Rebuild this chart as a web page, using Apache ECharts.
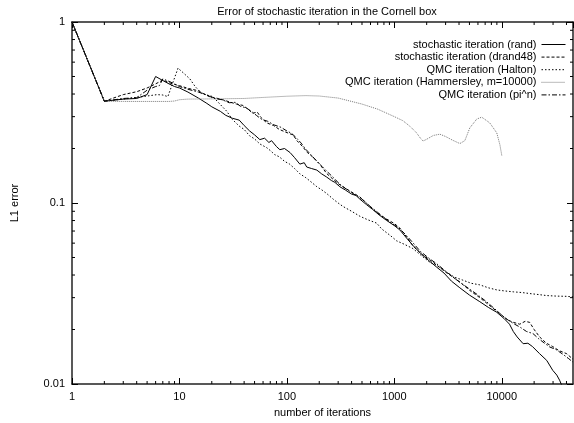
<!DOCTYPE html>
<html><head><meta charset="utf-8">
<script src="https://cdn.jsdelivr.net/npm/echarts@6/dist/echarts.min.js"></script>
<style>html,body{margin:0;padding:0;background:#fff}#c{width:574px;height:423px}</style>
</head><body><div id="c"></div>
<script>
const titleText = 'Error of stochastic iteration in the Cornell box';
const seriesNames = ['stochastic iteration (rand)','stochastic iteration (drand48)','QMC iteration (Halton)','QMC iteration (Hammersley, m=10000)','QMC iteration (pi^n)'];
const xTickLabels = [1,10,100,1000,10000];
const yTickLabels = [0.01,0.1,1];
const xMinorTicks = [2,3,4,5,6,7,8,9,20,30,40,50,60,70,80,90,200,300,400,500,600,700,800,900,2000,3000,4000,5000,6000,7000,8000,9000,20000,30000,40000];
const yMinorTicks = [0.02,0.03,0.04,0.05,0.06,0.07,0.08,0.09,0.2,0.3,0.4,0.5,0.6,0.7,0.8,0.9];

const randData = [[1,1.0],[2,0.365],[3,0.375],[4,0.378],[5,0.397],[6,0.50],[7,0.475],[8,0.455],[9,0.44],[10,0.432],[12,0.41],[15,0.38],[18,0.355],[20,0.34],[24,0.321],[27,0.305],[31,0.294],[36,0.287],[40,0.268],[45,0.25],[50,0.238],[56,0.224],[62,0.228],[68,0.216],[72,0.221],[80,0.205],[86,0.197],[95,0.2],[107,0.19],[118,0.178],[132,0.164],[145,0.167],[153,0.158],[170,0.155],[190,0.152],[210,0.145],[235,0.139],[260,0.133],[280,0.13],[311,0.123],[350,0.118],[400,0.112],[440,0.11],[478,0.105],[550,0.098],[630,0.092],[720,0.086],[850,0.08],[1000,0.075],[1125,0.071],[1300,0.064],[1500,0.058],[1800,0.052],[2100,0.048],[2480,0.0442],[2900,0.041],[3400,0.037],[4070,0.034],[5000,0.031],[6240,0.0285],[7500,0.0265],[8980,0.0249],[10500,0.023],[11800,0.0214],[12800,0.0195],[13900,0.0182],[15800,0.0167],[17500,0.0168],[19300,0.0161],[22500,0.0147],[26200,0.0135],[29800,0.0119],[32500,0.0112],[34500,0.0105],[36800,0.0096]];
const drand48Data = [[1,1],[2,0.365],[3,0.397],[4,0.412],[5,0.432],[6,0.455],[7,0.478],[8,0.462],[9,0.452],[10,0.445],[12,0.43],[15,0.417],[17,0.40],[19,0.387],[22,0.38],[26,0.37],[30,0.36],[34,0.352],[39,0.346],[44,0.328],[48,0.313],[53,0.318],[57,0.298],[65,0.277],[75,0.268],[85,0.255],[95,0.248],[105,0.242],[114,0.238],[124,0.221],[140,0.205],[155,0.19],[175,0.179],[200,0.165],[236,0.145],[270,0.135],[300,0.128],[332,0.123],[400,0.115],[478,0.108],[560,0.099],[631,0.0922],[740,0.086],[851,0.0814],[1000,0.077],[1125,0.0727],[1300,0.065],[1486,0.0581],[1800,0.052],[2100,0.049],[2480,0.0453],[3000,0.0415],[3500,0.039],[4070,0.0366],[5000,0.033],[6240,0.030],[7500,0.0275],[8980,0.0252],[10000,0.024],[11100,0.0228],[12500,0.022],[14700,0.0214],[16500,0.0222],[18200,0.0219],[20000,0.020],[22500,0.0182],[26000,0.0168],[29800,0.0161],[34000,0.0153],[40200,0.0147],[46000,0.0137]];
const haltonData = [[1,1],[2,0.365],[3,0.375],[4,0.383],[5,0.39],[6.2,0.397],[7,0.395],[7.8,0.387],[9.7,0.556],[11,0.52],[12.5,0.485],[14,0.44],[16.2,0.402],[18,0.395],[20.5,0.387],[24,0.35],[27.6,0.321],[31,0.29],[36,0.266],[40,0.255],[45,0.235],[50,0.226],[56,0.212],[65,0.202],[70,0.195],[77,0.185],[85,0.18],[95,0.17],[106,0.164],[118,0.155],[132,0.145],[150,0.138],[170,0.13],[190,0.123],[212,0.118],[236,0.1125],[270,0.105],[300,0.1],[332,0.0958],[400,0.09],[478,0.0845],[560,0.081],[685,0.0774],[760,0.072],[851,0.0684],[950,0.065],[1050,0.0618],[1250,0.059],[1490,0.056],[1800,0.051],[2140,0.047],[2480,0.0453],[3070,0.0415],[3600,0.039],[4330,0.0375],[5200,0.036],[6240,0.0353],[7500,0.034],[8980,0.0331],[10500,0.0327],[12800,0.0323],[15500,0.032],[18200,0.0316],[22000,0.0312],[26200,0.0308],[32000,0.0306],[40000,0.0305],[46000,0.0303]];
const hammersleyData = [[1,1],[2,0.365],[3,0.364],[5,0.364],[8,0.364],[9,0.366],[10,0.372],[12,0.375],[20,0.376],[40,0.378],[60,0.383],[100,0.389],[150,0.392],[200,0.39],[300,0.38],[500,0.352],[700,0.33],[1000,0.30],[1200,0.285],[1400,0.265],[1600,0.245],[1750,0.228],[1850,0.22],[2000,0.225],[2300,0.236],[2650,0.24],[3000,0.233],[3500,0.222],[4070,0.213],[4530,0.221],[5040,0.26],[5850,0.291],[6510,0.298],[7730,0.277],[8980,0.244],[9600,0.21],[10000,0.183]];
const piData = [[1,1],[2,0.365],[3,0.378],[4,0.382],[5,0.42],[6,0.44],[6.5,0.445],[7,0.485],[8,0.47],[9,0.455],[10,0.44],[12,0.425],[15,0.41],[18,0.395],[21,0.378],[25,0.372],[29,0.358],[33,0.36],[37,0.342],[42,0.335],[47,0.32],[52,0.305],[58,0.29],[66,0.283],[76,0.27],[88,0.262],[100,0.25],[110,0.243],[120,0.232],[135,0.215],[150,0.198],[170,0.183],[190,0.17],[215,0.158],[240,0.148],[275,0.137],[310,0.127],[360,0.119],[420,0.112],[500,0.105],[580,0.097],[680,0.09],[800,0.083],[950,0.077],[1100,0.073],[1300,0.066],[1500,0.06],[1750,0.054],[2100,0.0495],[2500,0.046],[3000,0.042],[3600,0.0385],[4200,0.036],[5000,0.0335],[6000,0.031],[7200,0.0285],[8600,0.026],[10000,0.024],[11500,0.0225],[13000,0.0215],[15000,0.0205],[17000,0.0195],[19500,0.019],[22000,0.0178],[25000,0.0168],[28000,0.016],[32000,0.0155],[37000,0.0146],[42000,0.0138],[46000,0.0132]];

const X_MIN = 1, X_MAX = 46000, Y_MIN = 0.01, Y_MAX = 1;
const FONT = 'Liberation Sans, Arial, sans-serif';
const chart = echarts.init(document.getElementById('c'), null, {renderer:'canvas'});

function lineSeries(name, data, dash, color) {
  return {name, type:'line', data, symbol:'none', showSymbol:false, animation:false, clip:true,
    lineStyle:{color: color || '#000', width:1, type: dash}, itemStyle:{color: color || '#000'}};
}
const axisLineStyle = {show:true, lineStyle:{color:'#222', width:1.5}};
const majorTick = {show:true, inside:true, length:6, lineStyle:{color:'#000', width:1}};

const MINOR = 3;
const minorXSeries = {type:'custom', silent:true, animation:false, clip:false, z:10,
  data: xMinorTicks.map(v => [v, Y_MIN]),
  renderItem:(params, api) => {
    const v = api.value(0);
    const p = api.coord([v, Y_MIN]), q = api.coord([v, Y_MAX]);
    return {type:'group', children:[
      {type:'line', shape:{x1:p[0], y1:p[1], x2:p[0], y2:p[1]-MINOR}, style:{stroke:'#000', lineWidth:1}},
      {type:'line', shape:{x1:q[0], y1:q[1], x2:q[0], y2:q[1]+MINOR}, style:{stroke:'#000', lineWidth:1}}
    ]};
  }};
const minorYSeries = {type:'custom', silent:true, animation:false, clip:false, z:10,
  data: yMinorTicks.map(v => [X_MIN, v]),
  renderItem:(params, api) => {
    const v = api.value(1);
    const p = api.coord([X_MIN, v]), q = api.coord([X_MAX, v]);
    return {type:'group', children:[
      {type:'line', shape:{x1:p[0], y1:p[1], x2:p[0]+MINOR, y2:p[1]}, style:{stroke:'#000', lineWidth:1}},
      {type:'line', shape:{x1:q[0], y1:q[1], x2:q[0]-MINOR, y2:q[1]}, style:{stroke:'#000', lineWidth:1}}
    ]};
  }};

chart.setOption({
  animation:false,
  title:{text:titleText, left:322, textAlign:'center', top:1, textStyle:{fontFamily:FONT, fontSize:11, fontWeight:'normal', color:'#000'}},
  grid:{left:72, right:1, top:22, bottom:32},
  legend:{data:seriesNames, orient:'vertical', right:8, top:39, padding:0, align:'right', itemWidth:24, itemHeight:8, itemGap:1.6,
    itemStyle:{opacity:0, borderWidth:0}, lineStyle:{width:1},
    textStyle:{fontFamily:FONT, fontSize:11, color:'#000', padding:[0,0,0,0]}, selectedMode:false},
  xAxis:[
    {type:'log', min:X_MIN, max:X_MAX, logBase:10, position:'bottom', axisLine:axisLineStyle, axisTick:majorTick,
     splitLine:{show:false},
     axisLabel:{fontFamily:FONT, fontSize:11, color:'#000', margin:7, showMaxLabel:false,
       formatter:v => xTickLabels.indexOf(v) >= 0 ? String(v) : ''},
     name:'number of iterations', nameLocation:'middle', nameGap:23, nameTextStyle:{fontFamily:FONT, fontSize:11, color:'#000'}},
    {type:'log', min:X_MIN, max:X_MAX, logBase:10, position:'top', axisLine:axisLineStyle, axisTick:majorTick,
     splitLine:{show:false}, axisLabel:{show:false}}
  ],
  yAxis:[
    {type:'log', min:Y_MIN, max:Y_MAX, logBase:10, position:'left', axisLine:axisLineStyle, axisTick:majorTick,
     splitLine:{show:false},
     axisLabel:{fontFamily:FONT, fontSize:11, color:'#000', margin:7, formatter:v => yTickLabels.indexOf(v) >= 0 ? String(v) : ''},
     name:'L1 error', nameLocation:'middle', nameRotate:90, nameGap:52, nameTextStyle:{fontFamily:FONT, fontSize:11, color:'#000'}},
    {type:'log', min:Y_MIN, max:Y_MAX, logBase:10, position:'right', axisLine:axisLineStyle, axisTick:majorTick,
     splitLine:{show:false}, axisLabel:{show:false}}
  ],
  series:[
    lineSeries(seriesNames[0], randData, 'solid'),
    lineSeries(seriesNames[1], drand48Data, [3,2]),
    lineSeries(seriesNames[2], haltonData, [1.5,2]),
    lineSeries(seriesNames[3], hammersleyData, [1,1], '#777'),
    lineSeries(seriesNames[4], piData, [5,2,1.5,2]),
    minorXSeries,
    minorYSeries
  ]
});
</script></body></html>
